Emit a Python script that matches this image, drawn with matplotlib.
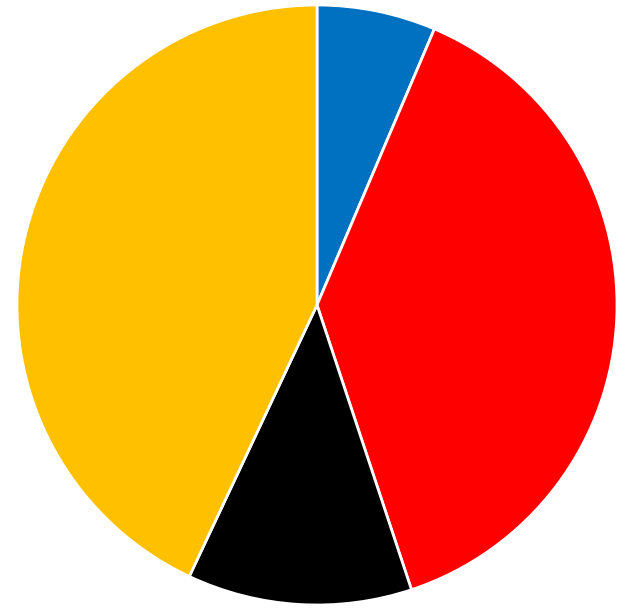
import matplotlib
matplotlib.use('Agg')
import matplotlib.pyplot as plt

# slice shares, clockwise from 12 o'clock
labels = ['Blue', 'Red', 'Black', 'Yellow']
shares = [6.4, 38.5, 12.1, 43.0]
colors = ['#0070C0', '#FF0000', '#000000', '#FFC000']

W, H = 628, 613
cx, cy, r = 317, 305, 300

fig = plt.figure(figsize=(W / 100, H / 100), dpi=100)
ax = fig.add_axes([(cx - r) / W, (H - cy - r) / H, 2 * r / W, 2 * r / H])

ax.pie(shares, colors=colors, startangle=90, counterclock=False,
       wedgeprops=dict(edgecolor='white', linewidth=2))
ax.set_xlim(-1, 1)
ax.set_ylim(-1, 1)
ax.set_aspect('equal')
ax.axis('off')

fig.savefig('out.png', dpi=100)
